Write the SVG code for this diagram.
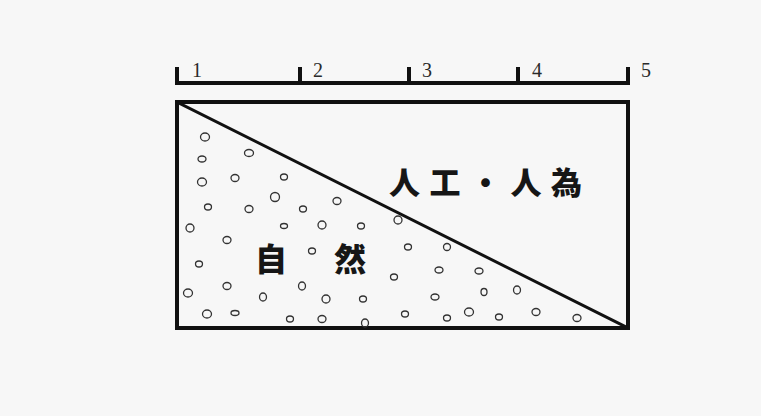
<svg xmlns="http://www.w3.org/2000/svg" width="761" height="416" viewBox="0 0 761 416">
<style>
.ln{stroke:#111;fill:none;stroke-linecap:square}
.num{font-family:"Liberation Serif","DejaVu Serif",serif;font-size:20px;fill:#2a2a2a}
.big{font-family:"Noto Sans CJK JP","Noto Sans CJK SC",sans-serif;font-weight:900;fill:#161616}
.d{fill:none;stroke:#333;stroke-width:1.3}
</style>
<rect width="761" height="416" fill="#f7f7f7"/>
<g id="ruler">
<path class="ln" stroke-width="4" d="M177,83 H628 M177,69 V83 M300,69 V83 M409,69 V83 M518,69 V83 M628,69 V83"/>
<text class="num" x="192" y="77">1</text>
<text class="num" x="313" y="77">2</text>
<text class="num" x="422" y="77">3</text>
<text class="num" x="532" y="77">4</text>
<text class="num" x="641" y="77">5</text>
</g>
<g id="frame">
<rect class="ln" x="177" y="102" width="451" height="226" stroke-width="4"/>
<line class="ln" x1="179" y1="103" x2="626" y2="327" stroke-width="3"/>
</g>
<g id="dots">
<ellipse class="d" cx="205" cy="137" rx="4.5" ry="4"/>
<ellipse class="d" cx="202" cy="159" rx="4" ry="3"/>
<ellipse class="d" cx="249" cy="153" rx="4.5" ry="3.5"/>
<ellipse class="d" cx="202" cy="182" rx="4.5" ry="4"/>
<ellipse class="d" cx="235" cy="178" rx="4" ry="3.5"/>
<ellipse class="d" cx="284" cy="177" rx="3.5" ry="3"/>
<ellipse class="d" cx="208" cy="207" rx="3.5" ry="3"/>
<ellipse class="d" cx="275" cy="197" rx="4.5" ry="4.5"/>
<ellipse class="d" cx="249" cy="209" rx="4" ry="3.5"/>
<ellipse class="d" cx="303" cy="209" rx="3.5" ry="3"/>
<ellipse class="d" cx="337" cy="201" rx="4" ry="3.5"/>
<ellipse class="d" cx="190" cy="228" rx="4" ry="4"/>
<ellipse class="d" cx="227" cy="240" rx="4" ry="3.5"/>
<ellipse class="d" cx="284" cy="226" rx="3.5" ry="2.5"/>
<ellipse class="d" cx="322" cy="225" rx="4" ry="4"/>
<ellipse class="d" cx="361" cy="226" rx="3.5" ry="3"/>
<ellipse class="d" cx="398" cy="220" rx="4" ry="4"/>
<ellipse class="d" cx="199" cy="264" rx="3.5" ry="3"/>
<ellipse class="d" cx="312" cy="251" rx="3.5" ry="3"/>
<ellipse class="d" cx="408" cy="247" rx="3.5" ry="3"/>
<ellipse class="d" cx="447" cy="247" rx="3.5" ry="3.5"/>
<ellipse class="d" cx="188" cy="293" rx="4.5" ry="4"/>
<ellipse class="d" cx="227" cy="286" rx="4" ry="3.5"/>
<ellipse class="d" cx="263" cy="297" rx="3.5" ry="4"/>
<ellipse class="d" cx="302" cy="286" rx="3.5" ry="4"/>
<ellipse class="d" cx="326" cy="299" rx="4" ry="4"/>
<ellipse class="d" cx="363" cy="299" rx="3.5" ry="3"/>
<ellipse class="d" cx="394" cy="277" rx="3.5" ry="3"/>
<ellipse class="d" cx="439" cy="270" rx="4" ry="3"/>
<ellipse class="d" cx="479" cy="271" rx="4" ry="3"/>
<ellipse class="d" cx="435" cy="297" rx="4" ry="3"/>
<ellipse class="d" cx="484" cy="292" rx="3" ry="3.5"/>
<ellipse class="d" cx="517" cy="290" rx="3.5" ry="4"/>
<ellipse class="d" cx="207" cy="314" rx="4.5" ry="4"/>
<ellipse class="d" cx="235" cy="313" rx="4" ry="2.5"/>
<ellipse class="d" cx="290" cy="319" rx="3.5" ry="3"/>
<ellipse class="d" cx="322" cy="319" rx="4" ry="3.5"/>
<ellipse class="d" cx="365" cy="323" rx="3.5" ry="4"/>
<ellipse class="d" cx="405" cy="314" rx="3.5" ry="3"/>
<ellipse class="d" cx="447" cy="318" rx="3.5" ry="3"/>
<ellipse class="d" cx="469" cy="312" rx="4.5" ry="4"/>
<ellipse class="d" cx="499" cy="317" rx="3.5" ry="3"/>
<ellipse class="d" cx="536" cy="312" rx="4" ry="3.5"/>
<ellipse class="d" cx="577" cy="318" rx="4" ry="3.5"/>
</g>
<g id="artificial">
<text class="big" x="389" y="194" font-size="31" letter-spacing="9.5">人工・人為</text>
</g>
<g id="nature">
<text class="big" x="255" y="271" font-size="32">自</text>
<text class="big" x="334" y="271" font-size="32">然</text>
</g>
</svg>
